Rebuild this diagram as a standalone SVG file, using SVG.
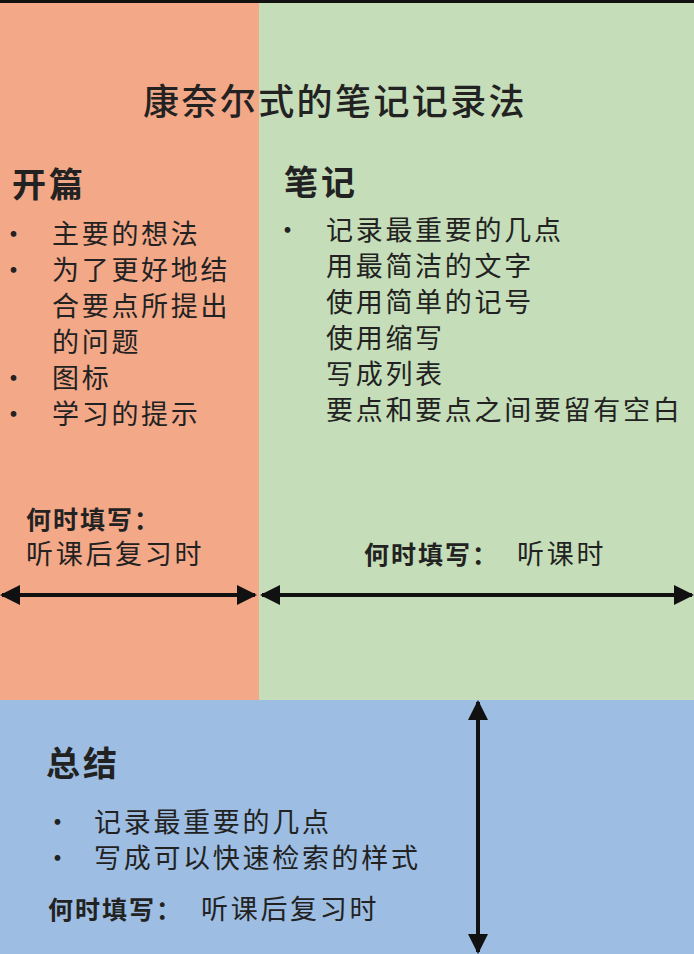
<svg xmlns="http://www.w3.org/2000/svg" width="694" height="954" viewBox="0 0 694 954">
<style>
text{font-family:"Noto Sans CJK SC","Noto Sans",sans-serif;fill:#222}
.t{font-size:27px;letter-spacing:2.7px}
.h{font-size:34px;font-weight:bold;letter-spacing:3px}
.b{font-size:25px;font-weight:bold;letter-spacing:2px}
.n{font-size:27px;font-weight:normal;letter-spacing:2.7px}
.ar{stroke:#111;stroke-width:4;fill:none}
</style>
<defs>
<marker id="a" viewBox="0 0 10 10" refX="9" refY="5" markerWidth="5" markerHeight="5" orient="auto-start-reverse"><path d="M0,0L10,5L0,10z" fill="#111"/></marker>
</defs>
<g id="left"><rect x="0" y="0" width="259" height="700" fill="#F3A888"/></g>
<g id="right"><rect x="259" y="0" width="435" height="700" fill="#C5DDB8"/></g>
<g id="bottom"><rect x="0" y="700" width="694" height="254" fill="#9DBDE3"/></g>
<rect x="0" y="0" width="694" height="3" fill="#111"/>
<g id="title"><text x="143" y="115" font-size="36" font-weight="500" letter-spacing="2.4">康奈尔式的笔记记录法</text></g>
<g id="opening">
<text x="12" y="197" class="h">开篇</text>
<text class="t"><tspan x="0" y="244">•</tspan><tspan x="52" y="244">主要的想法</tspan>
<tspan x="0" y="280">•</tspan><tspan x="52" y="280">为了更好地结</tspan>
<tspan x="52" y="316">合要点所提出</tspan><tspan x="52" y="352">的问题</tspan>
<tspan x="0" y="388">•</tspan><tspan x="52" y="388">图标</tspan>
<tspan x="0" y="424">•</tspan><tspan x="52" y="424">学习的提示</tspan></text>
<text x="26" y="529" class="b">何时填写：</text>
<text x="26" y="564" class="t">听课后复习时</text>
</g>
<g id="notes">
<text x="284" y="195" class="h">笔记</text>
<text class="t"><tspan x="274" y="240">•</tspan><tspan x="326" y="240">记录最重要的几点</tspan>
<tspan x="326" y="276">用最简洁的文字</tspan><tspan x="326" y="312">使用简单的记号</tspan>
<tspan x="326" y="348">使用缩写</tspan><tspan x="326" y="384">写成列表</tspan>
<tspan x="326" y="420">要点和要点之间要留有空白</tspan></text>
<text x="364" y="564" class="b">何时填写：<tspan class="n" dx="18">听课时</tspan></text>
</g>
<g id="summary">
<text x="46" y="776" class="h">总结</text>
<text class="t"><tspan x="44" y="832">•</tspan><tspan x="94" y="832">记录最重要的几点</tspan>
<tspan x="44" y="868">•</tspan><tspan x="94" y="868">写成可以快速检索的样式</tspan></text>
<text x="48" y="919" class="b">何时填写：<tspan class="n" dx="18">听课后复习时</tspan></text>
</g>
<g id="connectors">
<line class="ar" x1="2" y1="595" x2="255" y2="595" marker-start="url(#a)" marker-end="url(#a)"/>
<line class="ar" x1="262" y1="595" x2="692" y2="595" marker-start="url(#a)" marker-end="url(#a)"/>
<line class="ar" x1="478" y1="702" x2="478" y2="952" marker-start="url(#a)" marker-end="url(#a)"/>
</g>
</svg>
